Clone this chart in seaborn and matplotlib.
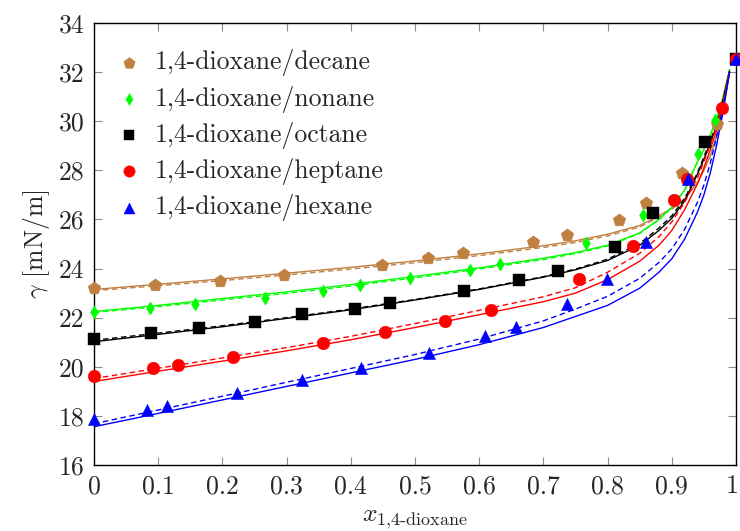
import matplotlib
matplotlib.use("Agg")
import matplotlib.pyplot as plt
import matplotlib.transforms as mtransforms
import pandas as pd
import seaborn as sns

# ---------------------------------------------------------------- data
systems = [
    "1,4-dioxane/decane",
    "1,4-dioxane/nonane",
    "1,4-dioxane/octane",
    "1,4-dioxane/heptane",
    "1,4-dioxane/hexane",
]

# measured surface tensions (mole fraction of 1,4-dioxane, gamma in mN/m)
x_decane = [0, 0.095, 0.196, 0.296, 0.448, 0.521, 0.575, 0.684, 0.736, 0.817, 0.860, 0.916, 0.971, 1.0]
g_decane = [23.21, 23.33, 23.51, 23.74, 24.15, 24.42, 24.62, 25.10, 25.37, 25.98, 26.65, 27.88, 29.89, 32.52]

x_nonane = [0, 0.087, 0.157, 0.266, 0.357, 0.414, 0.492, 0.586, 0.633, 0.766, 0.855, 0.941, 0.967, 1.0]
g_nonane = [22.22, 22.38, 22.56, 22.79, 23.09, 23.33, 23.60, 23.94, 24.19, 25.06, 26.20, 28.68, 30.05, 32.52]

x_octane = [0, 0.089, 0.164, 0.250, 0.324, 0.407, 0.461, 0.577, 0.662, 0.723, 0.812, 0.870, 0.952, 1.0]
g_octane = [21.13, 21.37, 21.57, 21.83, 22.13, 22.35, 22.59, 23.09, 23.54, 23.91, 24.89, 26.27, 29.17, 32.52]

x_heptane = [0, 0.092, 0.131, 0.217, 0.356, 0.453, 0.546, 0.618, 0.756, 0.839, 0.904, 0.924, 0.978, 1.0]
g_heptane = [19.62, 19.94, 20.08, 20.40, 20.98, 21.41, 21.88, 22.31, 23.58, 24.93, 26.80, 27.64, 30.55, 32.52]

x_hexane = [0, 0.082, 0.113, 0.222, 0.324, 0.416, 0.522, 0.609, 0.657, 0.736, 0.799, 0.860, 0.925, 1.0]
g_hexane = [17.86, 18.24, 18.41, 18.94, 19.46, 19.94, 20.57, 21.26, 21.63, 22.56, 23.58, 25.10, 27.66, 32.52]

# model predictions (solid and dashed variants)
x_model = [0, 0.1, 0.2, 0.3, 0.4, 0.5, 0.6, 0.7, 0.75, 0.8, 0.85, 0.88, 0.9, 0.92, 0.94, 0.95, 0.96, 0.97, 0.98, 0.99]

decane_solid = [23.15, 23.36, 23.58, 23.81, 24.05, 24.31, 24.60, 24.93, 25.13, 25.40, 25.75, 26.15, 26.45, 26.85, 27.50, 28.00, 28.60, 29.40, 30.50, 32.00]
decane_dashed = [23.10, 23.30, 23.51, 23.74, 23.98, 24.24, 24.53, 24.86, 25.06, 25.33, 25.69, 26.10, 26.42, 26.83, 27.50, 28.00, 28.60, 29.40, 30.50, 32.00]

nonane_solid = [22.25, 22.50, 22.78, 23.05, 23.35, 23.68, 24.03, 24.42, 24.65, 24.95, 25.45, 26.00, 26.50, 27.20, 28.35, 28.85, 29.45, 30.10, 31.00, 32.10]
nonane_dashed = [22.21, 22.45, 22.72, 22.99, 23.29, 23.62, 23.98, 24.37, 24.61, 24.92, 25.43, 25.98, 26.50, 27.20, 28.35, 28.85, 29.45, 30.10, 31.00, 32.10]

octane_solid = [21.02, 21.32, 21.63, 21.97, 22.32, 22.72, 23.15, 23.65, 23.95, 24.33, 24.95, 25.55, 26.05, 26.75, 27.85, 28.45, 29.10, 29.85, 30.85, 32.05]
octane_dashed = [21.08, 21.37, 21.67, 22.00, 22.35, 22.74, 23.17, 23.67, 23.98, 24.38, 25.02, 25.65, 26.15, 26.85, 27.90, 28.55, 29.20, 29.95, 30.90, 32.05]

heptane_solid = [19.40, 19.82, 20.23, 20.65, 21.10, 21.60, 22.12, 22.65, 23.00, 23.55, 24.30, 24.95, 25.55, 26.40, 27.45, 28.10, 28.85, 29.65, 30.70, 32.00]
heptane_dashed = [19.52, 19.94, 20.36, 20.78, 21.24, 21.76, 22.30, 22.85, 23.22, 23.85, 24.62, 25.30, 25.90, 26.70, 27.70, 28.35, 29.05, 29.80, 30.80, 32.00]

hexane_solid = [17.56, 18.10, 18.65, 19.20, 19.75, 20.30, 20.90, 21.60, 22.05, 22.50, 23.20, 23.85, 24.40, 25.20, 26.30, 27.00, 27.90, 29.05, 30.40, 32.00]
hexane_dashed = [17.68, 18.24, 18.80, 19.37, 19.93, 20.50, 21.13, 21.87, 22.35, 22.87, 23.60, 24.25, 24.80, 25.60, 26.70, 27.40, 28.30, 29.40, 30.60, 32.00]

colors = ["#bf8040", "#00ff00", "#000000", "#ff0000", "#0000ff"]
markers = ["p", "d", "s", "o", "^"]
marker_sizes = [92, 46, 75, 83, 78]

x_ticks = [0, 0.1, 0.2, 0.3, 0.4, 0.5, 0.6, 0.7, 0.8, 0.9, 1.0]
x_tick_labels = ["0", "0.1", "0.2", "0.3", "0.4", "0.5", "0.6", "0.7", "0.8", "0.9", "1"]
y_ticks = [16, 18, 20, 22, 24, 26, 28, 30, 32, 34]

# ---------------------------------------------------------------- frames
meas = [(x_decane, g_decane), (x_nonane, g_nonane), (x_octane, g_octane),
        (x_heptane, g_heptane), (x_hexane, g_hexane)]
models = [(decane_solid, decane_dashed), (nonane_solid, nonane_dashed),
          (octane_solid, octane_dashed), (heptane_solid, heptane_dashed),
          (hexane_solid, hexane_dashed)]

model_rows = []
for name, (solid, dashed) in zip(systems, models):
    for kind, vals in (("solid", solid), ("dashed", dashed)):
        for xv, gv in zip(x_model, vals):
            model_rows.append({"x": xv, "gamma": gv, "system": name, "kind": kind})
model_df = pd.DataFrame(model_rows)

# ---------------------------------------------------------------- style
sns.set_style("ticks")
plt.rcParams["font.family"] = ["cmr10", "DejaVu Serif"]
plt.rcParams["mathtext.fontset"] = "cm"
plt.rcParams["axes.unicode_minus"] = False
plt.rcParams["axes.formatter.use_mathtext"] = True

FS = 18.5

fig = plt.figure(figsize=(7.4, 5.31), dpi=100)
ax = fig.add_axes([94 / 740, 1 - 465 / 531, (736 - 94) / 740, (465 - 23) / 531])

palette = dict(zip(systems, colors))

sns.lineplot(
    data=model_df, x="x", y="gamma", hue="system", style="kind",
    palette=palette, dashes={"solid": "", "dashed": (4, 2.5)},
    estimator=None, sort=False, legend=False, linewidth=1.0, ax=ax, zorder=2,
)

for name, (xs, gs), c, m, s in zip(systems, meas, colors, markers, marker_sizes):
    sns.scatterplot(x=xs, y=gs, marker=m, s=s, color=c, edgecolor=c,
                    linewidth=0.3, label=name, ax=ax, zorder=3, clip_on=False)

ax.set_xlim(0, 1)
ax.set_ylim(16, 34)
ax.set_xticks(x_ticks)
ax.set_xticklabels(x_tick_labels)
ax.set_yticks(y_ticks)
ax.set_yticklabels([str(t) for t in y_ticks])

ax.tick_params(axis="both", direction="in", length=6, width=0.8, color="#8c8c8c",
               top=True, right=True, labelsize=FS, pad=7)
for sp in ax.spines.values():
    sp.set_linewidth(1.0)
    sp.set_color("black")

# nudge the last x tick label so it stays inside the canvas
last = ax.get_xticklabels()[-1]
last.set_transform(last.get_transform() +
                   mtransforms.ScaledTranslation(-4 / 100, 0, fig.dpi_scale_trans))

ax.set_xlabel(r"$x_{\text{1,4-dioxane}}$", fontsize=FS, labelpad=6)
ax.set_ylabel(r"$\gamma$ [mN/m]", fontsize=FS, labelpad=5)

leg = ax.legend(loc="upper left", bbox_to_anchor=(0.034, 0.9405), frameon=False,
                fontsize=FS, handlelength=1.0, handletextpad=0.52, borderaxespad=0,
                borderpad=0, labelspacing=0.36, markerscale=0.9)

fig.savefig("out.png", dpi=100)
